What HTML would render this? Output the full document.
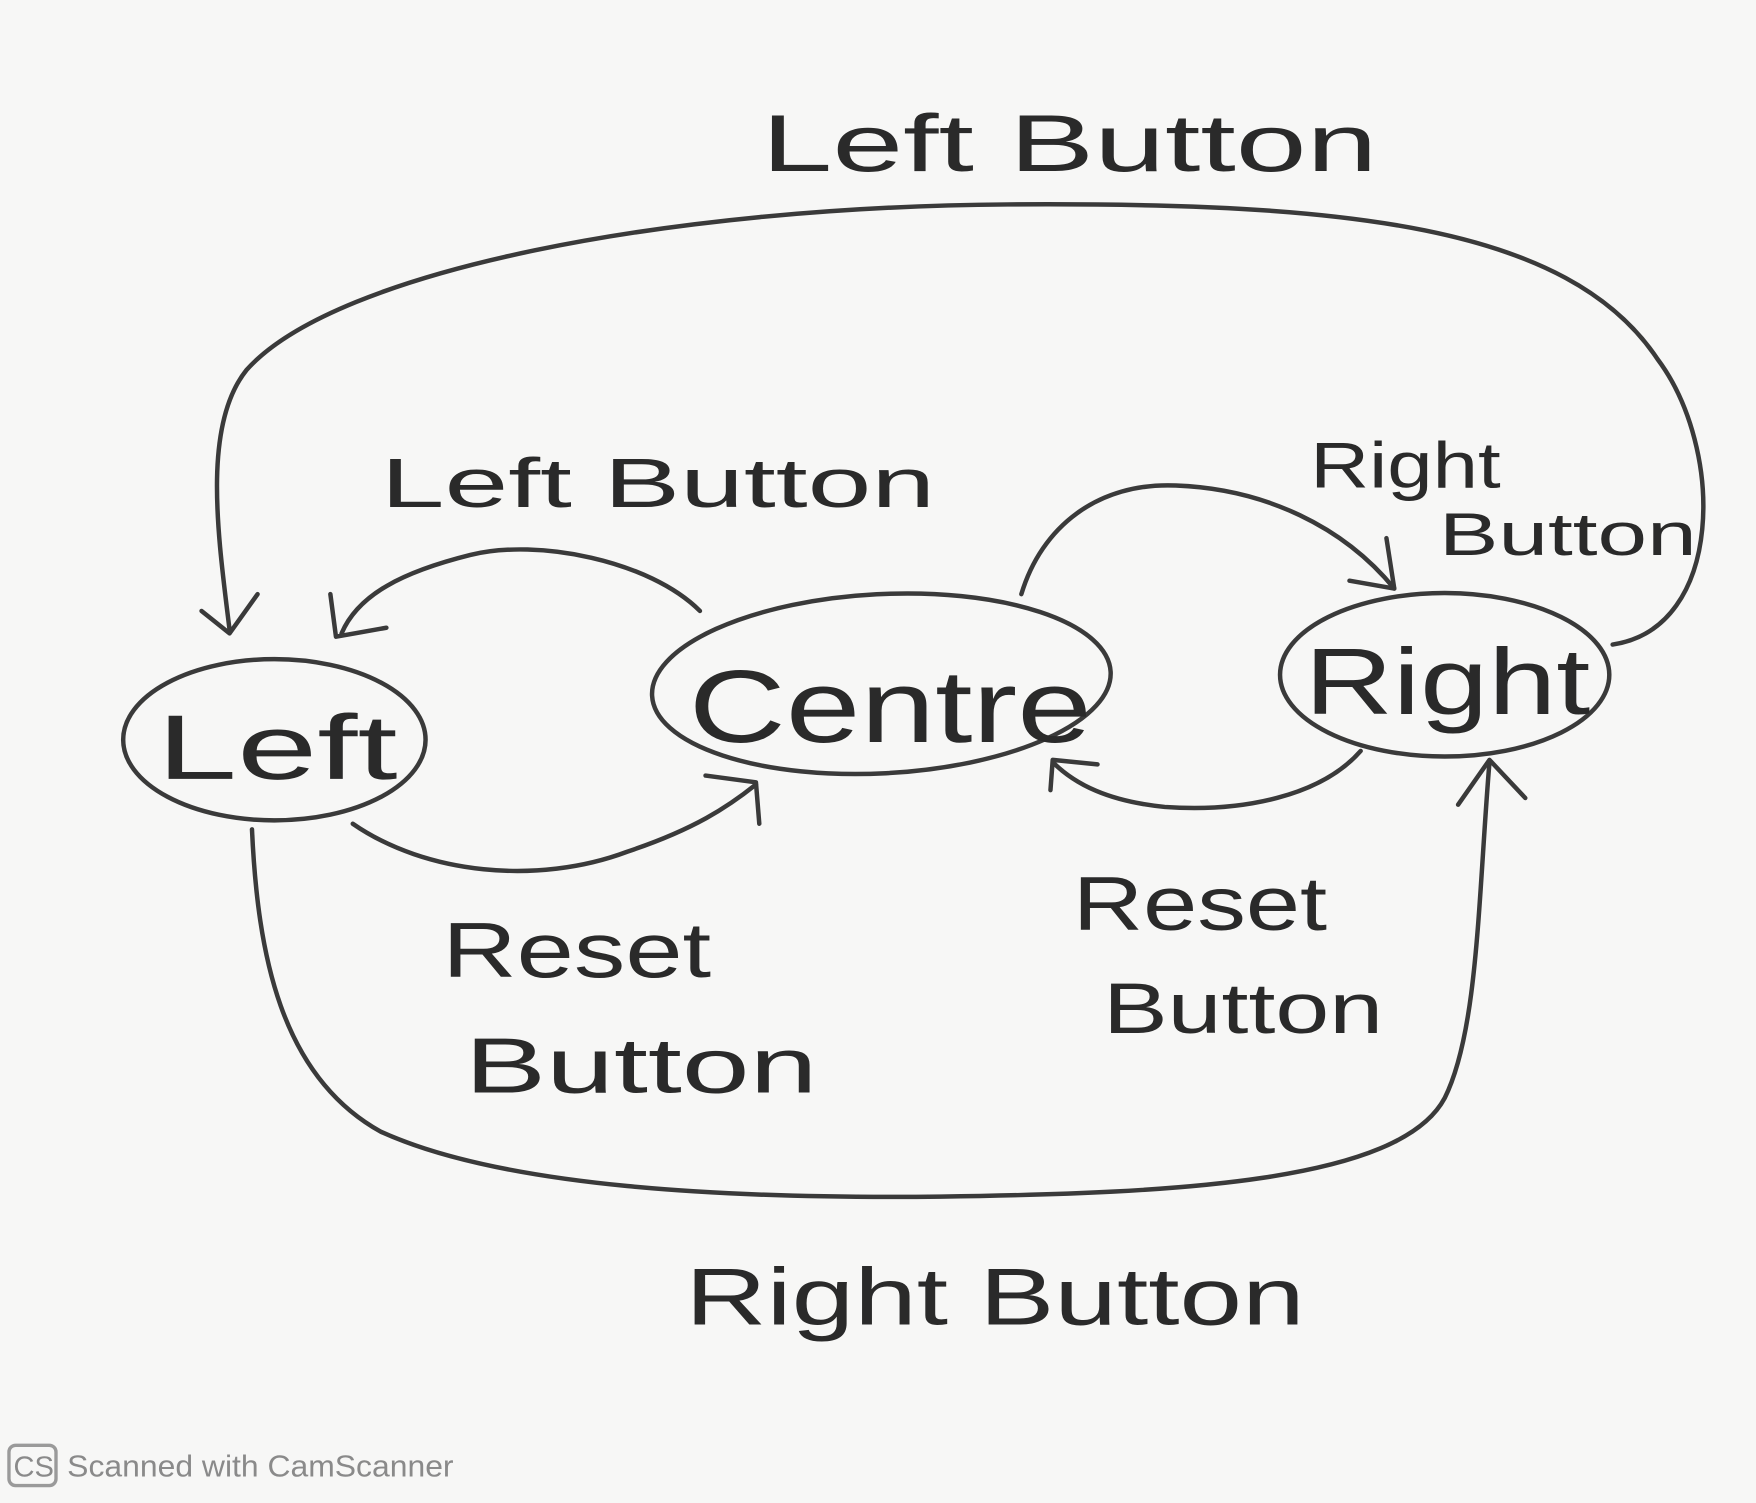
<!DOCTYPE html>
<html><head><meta charset="utf-8"><style>
html,body{margin:0;padding:0;background:#f7f7f6;}
svg{display:block;}
text{font-family:"Liberation Sans",sans-serif;fill:#2a2a2a;}
</style></head><body>
<svg width="1756" height="1503" viewBox="0 0 1568 1341" xmlns="http://www.w3.org/2000/svg">
<rect width="1568" height="1341" fill="#f7f7f6"/>
<g fill="none" stroke="#3a3a3a" stroke-width="4" stroke-linecap="round" stroke-linejoin="round">
<ellipse cx="245" cy="660" rx="135" ry="72"/>
<ellipse cx="787" cy="610" rx="205" ry="80" transform="rotate(-3 787 610)"/>
<ellipse cx="1290" cy="602" rx="147" ry="73"/>
<path d="M1440 575 C1540 560 1540 400 1480 320 C1400 200 1200 180 900 182 C600 184 300 240 220 330 C180 380 195 480 205 562"/>
<path d="M180 545 L205 565 L230 530"/>
<path d="M625 545 C580 500 480 480 420 495 C360 510 320 530 305 565"/>
<path d="M295 530 L300 568 L345 560"/>
<path d="M315 735 C380 780 480 790 560 760 C620 740 650 720 675 700"/>
<path d="M630 692 L675 698 L678 735"/>
<path d="M912 530 C930 470 980 430 1050 433 C1130 436 1200 470 1245 525"/>
<path d="M1238 480 L1245 525 L1205 518"/>
<path d="M1215 670 C1180 710 1110 725 1040 720 C990 715 960 700 940 680"/>
<path d="M980 682 L940 678 L938 705"/>
<path d="M225 740 C230 850 250 960 340 1010 C450 1060 650 1070 840 1068 C1050 1065 1250 1055 1290 980 C1320 920 1320 800 1330 680"/>
<path d="M1302 718 L1330 678 L1362 712"/>
</g>
<g style="font-size:0">
<text x="680" y="152" font-size="72" textLength="550" lengthAdjust="spacingAndGlyphs">Left Button</text>
<text x="340" y="452" font-size="62" textLength="495" lengthAdjust="spacingAndGlyphs">Left Button</text>
<text x="1170" y="435" font-size="58" textLength="170" lengthAdjust="spacingAndGlyphs">Right</text>
<text x="1285" y="495" font-size="54" textLength="230" lengthAdjust="spacingAndGlyphs">Button</text>
<text x="140" y="695" font-size="82" textLength="215" lengthAdjust="spacingAndGlyphs">Left</text>
<text x="615" y="662" font-size="92" textLength="360" lengthAdjust="spacingAndGlyphs">Centre</text>
<text x="1165" y="637" font-size="84" textLength="255" lengthAdjust="spacingAndGlyphs">Right</text>
<text x="395" y="872" font-size="70" textLength="240" lengthAdjust="spacingAndGlyphs">Reset</text>
<text x="415" y="975" font-size="70" textLength="315" lengthAdjust="spacingAndGlyphs">Button</text>
<text x="958" y="830" font-size="68" textLength="227" lengthAdjust="spacingAndGlyphs">Reset</text>
<text x="985" y="922" font-size="64" textLength="250" lengthAdjust="spacingAndGlyphs">Button</text>
<text x="612" y="1182" font-size="72" textLength="553" lengthAdjust="spacingAndGlyphs">Right Button</text>
</g>
<rect x="8" y="1290" width="42" height="36" rx="6" fill="none" stroke="#9a9a9a" stroke-width="3"/>
<text x="12" y="1318" font-size="26" style="fill:#8a8a8a">CS</text>
<text x="60" y="1318" font-size="27" style="fill:#8a8a8a" textLength="345" lengthAdjust="spacingAndGlyphs">Scanned with CamScanner</text>
</svg>
</body></html>
